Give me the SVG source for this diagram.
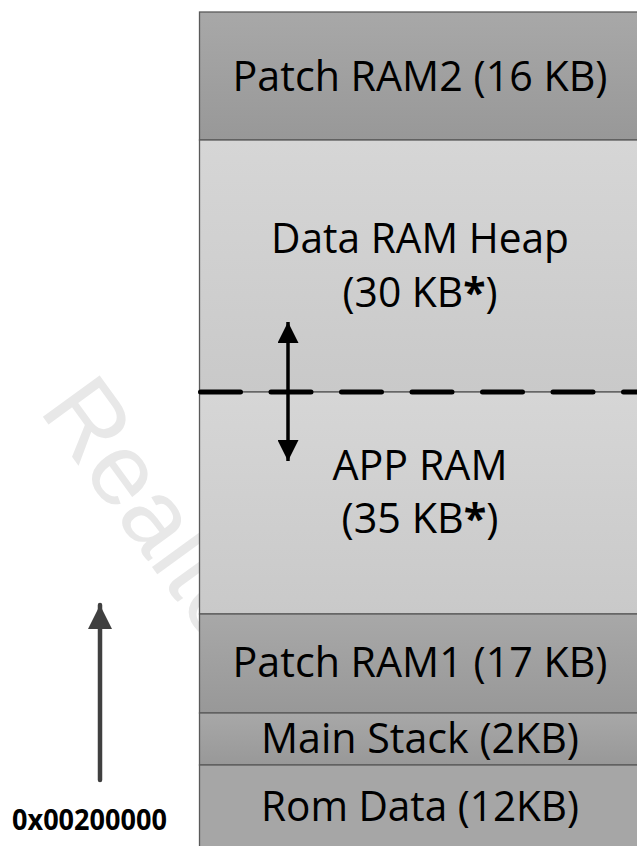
<svg xmlns="http://www.w3.org/2000/svg" width="637" height="846" viewBox="0 0 637 846">
<defs>
<linearGradient id="gDark" x1="0" y1="0" x2="0" y2="1"><stop offset="0" stop-color="#a8a8a8"/><stop offset="1" stop-color="#989898"/></linearGradient>
<linearGradient id="gLight" x1="0" y1="0" x2="0" y2="1"><stop offset="0" stop-color="#d6d6d6"/><stop offset="1" stop-color="#c9c9c9"/></linearGradient>
<marker id="hdBlack" viewBox="0 0 10 10" refX="10" refY="5" markerUnits="userSpaceOnUse" markerWidth="30" markerHeight="21" orient="auto"><path d="M0,0 L10,5 L0,10 Z" fill="#000"/></marker>
<marker id="hdGray" viewBox="0 0 10 10" refX="10" refY="5" markerUnits="userSpaceOnUse" markerWidth="25" markerHeight="24" orient="auto"><path d="M0,0 L10,5 L0,10 Z" fill="#404040"/></marker>
</defs>
<style>
.box{stroke:#5a5a5a;stroke-width:1.3}
.lbl{font-family:"Open Sans","Liberation Sans",sans-serif;font-size:42px;fill:#000;text-anchor:middle}
.addr{font-family:"Open Sans","Liberation Sans",sans-serif;font-size:29px;font-weight:bold;fill:#000;text-anchor:middle}
.wm{font-family:"Liberation Sans",Arial,sans-serif;font-size:102px;fill:#e8e8e8}
</style>
<rect width="637" height="846" fill="#fff"/>
<text class="wm" transform="translate(38,410) rotate(54)">Realtek</text>

<g id="patch-ram2">
<rect class="box" x="199.5" y="12" width="440" height="128" fill="url(#gDark)"/>
<text class="lbl" x="420" y="91" textLength="375" lengthAdjust="spacingAndGlyphs">Patch RAM2 (16 KB)</text>
</g>
<g id="data-ram-heap">
<rect class="box" x="199.5" y="140" width="440" height="252" fill="url(#gLight)"/>
<text class="lbl" x="420" y="253" textLength="298" lengthAdjust="spacingAndGlyphs">Data RAM Heap</text>
<text class="lbl" x="420" y="307" textLength="155" lengthAdjust="spacingAndGlyphs">(30 KB<tspan font-weight="bold">*</tspan>)</text>
</g>
<g id="app-ram">
<rect class="box" x="199.5" y="392" width="440" height="222" fill="url(#gLight)"/>
<text class="lbl" x="420" y="480" textLength="175" lengthAdjust="spacingAndGlyphs">APP RAM</text>
<text class="lbl" x="420" y="533" textLength="157" lengthAdjust="spacingAndGlyphs">(35 KB<tspan font-weight="bold">*</tspan>)</text>
</g>
<g id="patch-ram1">
<rect class="box" x="199.5" y="614" width="440" height="99" fill="url(#gDark)"/>
<text class="lbl" x="420" y="677" textLength="375" lengthAdjust="spacingAndGlyphs">Patch RAM1 (17 KB)</text>
</g>
<g id="main-stack">
<rect class="box" x="199.5" y="713" width="440" height="52" fill="url(#gDark)"/>
<text class="lbl" x="420" y="753" textLength="318" lengthAdjust="spacingAndGlyphs">Main Stack (2KB)</text>
</g>
<g id="rom-data">
<rect class="box" x="199.5" y="765" width="440" height="90" fill="#a6a6a6"/>
<text class="lbl" x="420" y="821" textLength="318" lengthAdjust="spacingAndGlyphs">Rom Data (12KB)</text>
</g>
<g id="address">
<text class="addr" x="89.5" y="830" textLength="155" lengthAdjust="spacingAndGlyphs">0x00200000</text>
</g>

<g id="connectors">
<line x1="200.5" y1="392" x2="640" y2="392" stroke="#000" stroke-width="5" stroke-linecap="round" stroke-dasharray="40 30.5"/>
<line x1="288" y1="392" x2="288" y2="322" stroke="#000" stroke-width="3.5" marker-end="url(#hdBlack)"/>
<line x1="288" y1="392" x2="288" y2="461" stroke="#000" stroke-width="3.5" marker-end="url(#hdBlack)"/>
<line x1="100" y1="780" x2="100" y2="605" stroke="#404040" stroke-width="4.5" stroke-linecap="round" marker-end="url(#hdGray)"/>
</g>
</svg>
